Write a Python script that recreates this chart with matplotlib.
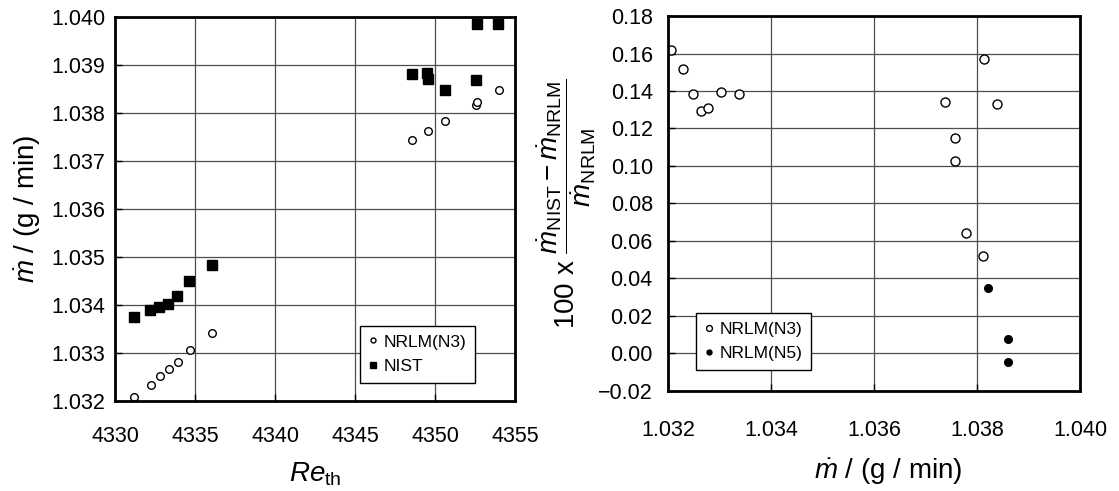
import matplotlib
matplotlib.use("Agg")
import matplotlib.pyplot as plt

plt.rcParams['font.family'] = ['Liberation Sans', 'DejaVu Sans']
plt.rcParams['mathtext.fontset'] = 'custom'
plt.rcParams['mathtext.rm'] = 'Liberation Sans'
plt.rcParams['mathtext.it'] = 'Liberation Sans:italic'
plt.rcParams['mathtext.bf'] = 'Liberation Sans:bold'

# left panel: mass flow vs throat Reynolds number
re_nist = [4331.16, 4332.17, 4332.75, 4333.28, 4333.88, 4334.64, 4336.07,
           4348.55, 4349.49, 4349.58, 4350.63, 4352.54, 4352.61, 4353.95]
m_nist = [1.03375, 1.03390, 1.03395, 1.03402, 1.03418, 1.03450, 1.03484,
          1.03882, 1.03884, 1.03870, 1.03849, 1.03869, 1.03986, 1.03986]
re_nrlm = [4331.16, 4332.23, 4332.81, 4333.37, 4333.95, 4334.69, 4336.09,
           4348.57, 4349.53, 4350.63, 4352.54, 4352.65, 4353.97]
m_nrlm = [1.03209, 1.03233, 1.03252, 1.03267, 1.03282, 1.03306, 1.03341,
          1.03743, 1.03763, 1.03783, 1.03816, 1.03824, 1.03849]

# right panel: relative difference vs mass flow
m_n3 = [1.03206, 1.03230, 1.03249, 1.03264, 1.03278, 1.03303, 1.03337,
        1.03737, 1.03758, 1.03758, 1.03778, 1.03812, 1.03814, 1.03839]
d_n3 = [0.1617, 0.1518, 0.1382, 0.1295, 0.1307, 0.1394, 0.1382,
        0.1343, 0.1149, 0.1029, 0.0642, 0.0518, 0.1573, 0.1333]
m_n5 = [1.03821, 1.03861, 1.03861]
d_n5 = [0.0349, 0.0076, -0.0048]

fig = plt.figure(figsize=(11.19, 4.91), dpi=100)
ax1 = fig.add_axes([0.1028, 0.1833, 0.3575, 0.782])
ax2 = fig.add_axes([0.597, 0.2037, 0.3682, 0.7637])

for ax in (ax1, ax2):
    ax.grid(True, color='0.3', lw=0.9)
    ax.set_axisbelow(True)
    for s in ax.spines.values():
        s.set_linewidth(2)
    ax.tick_params(direction='in', length=5, width=1, labelsize=15.5)

legend_kw = dict(fontsize=12.5, frameon=True, fancybox=False, edgecolor='black',
                 framealpha=1, handlelength=0.5, handletextpad=0.35, borderpad=0.5,
                 labelspacing=0.55, borderaxespad=0, markerscale=0.65)

ax1.plot(re_nrlm, m_nrlm, 'o', ms=5.5, mfc='white', mec='black', mew=1, label='NRLM(N3)')
ax1.plot(re_nist, m_nist, 's', ms=6.5, color='black', label='NIST')
ax1.set_xlim(4330, 4355)
ax1.set_ylim(1.032, 1.040)
ax1.set_xticks([4330, 4335, 4340, 4345, 4350, 4355])
ax1.set_yticks([1.032 + 0.001 * i for i in range(9)])
ax1.set_yticklabels(['%.3f' % (1.032 + 0.001 * i) for i in range(9)])
ax1.tick_params(axis='x', pad=18)
ax1.tick_params(axis='y', pad=7)
ax1.set_xlabel(r'$Re_{\mathrm{th}}$', fontsize=20, labelpad=10)
ax1.set_ylabel(r'$\dot{m}$ / (g / min)', fontsize=20, labelpad=6)
leg1 = ax1.legend(loc='lower right', bbox_to_anchor=(0.9, 0.047), **legend_kw)
leg1.get_frame().set_linewidth(1)

ax2.plot(m_n3, d_n3, 'o', ms=6.5, mfc='white', mec='black', mew=1, label='NRLM(N3)')
ax2.plot(m_n5, d_n5, 'o', ms=5.5, color='black', label='NRLM(N5)')
ax2.set_xlim(1.032, 1.040)
ax2.set_ylim(-0.02, 0.18)
ax2.set_xticks([1.032, 1.034, 1.036, 1.038, 1.040])
ax2.set_xticklabels(['1.032', '1.034', '1.036', '1.038', '1.040'])
ax2.set_yticks([-0.02 + 0.02 * i for i in range(11)])
ax2.set_yticklabels(['\u22120.02'] + ['%.2f' % (0.02 * i) for i in range(10)])
ax2.tick_params(axis='x', pad=21)
ax2.tick_params(axis='y', pad=11)
ax2.set_xlabel(r'$\dot{m}$ / (g / min)', fontsize=20, labelpad=14)
ax2.xaxis.set_label_coords(0.535, -0.175)
ax2.set_ylabel(r'100 x $\dfrac{\dot{m}_{\mathrm{NIST}} - \dot{m}_{\mathrm{NRLM}}}{\dot{m}_{\mathrm{NRLM}}}$',
               fontsize=20, labelpad=0)
leg2 = ax2.legend(loc='lower left', bbox_to_anchor=(0.068, 0.056), **legend_kw)
leg2.get_frame().set_linewidth(1)

fig.savefig('out.png', dpi=100)
